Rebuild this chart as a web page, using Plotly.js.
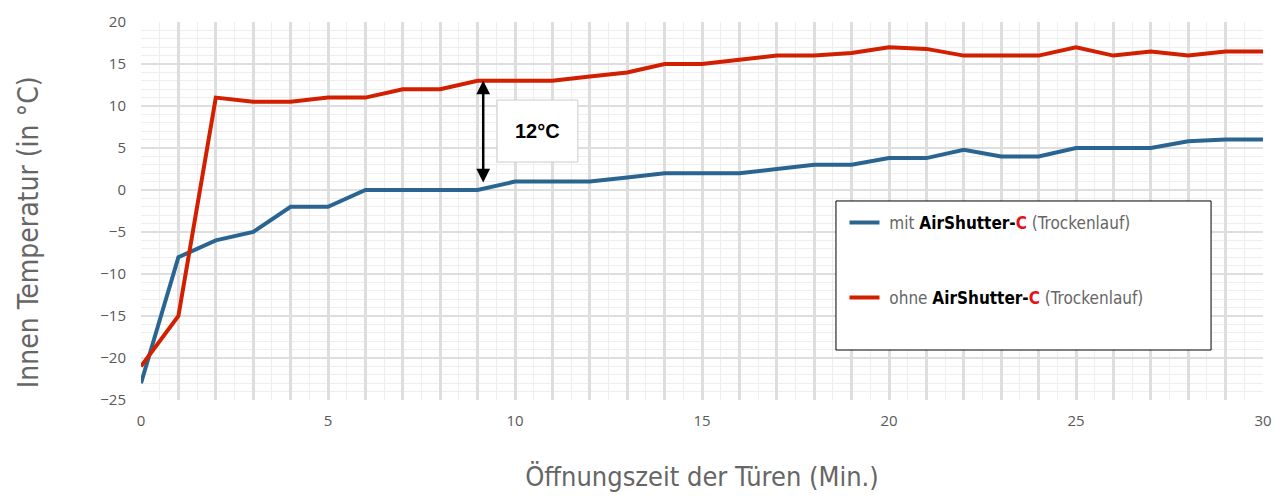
<!DOCTYPE html>
<html>
<head>
<meta charset="utf-8">
<script src="https://cdn.plot.ly/plotly-3.0.1.min.js"></script>
<style>html,body{margin:0;padding:0;background:#fff;}#chart{width:1274px;height:497px;}</style>
</head>
<body>
<div id="chart"></div>
<script>
const minutes = [0,1,2,3,4,5,6,7,8,9,10,11,12,13,14,15,16,17,18,19,20,21,22,23,24,25,26,27,28,29,30];
const mitAirShutter = [-23,-8,-6,-5,-2,-2,0,0,0,0,1,1,1,1.5,2,2,2,2.5,3,3,3.8,3.8,4.8,4,4,5,5,5,5.8,6,6];
const ohneAirShutter = [-21,-15,11,10.5,10.5,11,11,12,12,13,13,13,13.5,14,15,15,15.5,16,16,16.3,17,16.8,16,16,16,17,16,16.5,16,16.5,16.5];
const xTickLabels = ['0','','','','','5','','','','','10','','','','','15','','','','','20','','','','','25','','','','','30'];
const seriesNames = [
  "\u00a0mit <b><span style='color:#000'>AirShutter-</span></b><b><span style='color:#e8101a'>C</span></b> (Trockenlauf)",
  "\u00a0ohne <b><span style='color:#000'>AirShutter-</span></b><b><span style='color:#e8101a'>C</span></b> (Trockenlauf)"
];
const xTitle = "Öffnungszeit der Türen (Min.)";
const yTitle = "Innen Temperatur (in °C)";
const diffLabel = "12°C";

const condensed = "'Liberation Sans Narrow', 'DejaVu Sans Condensed', 'Roboto', sans-serif";

const traces = [
  {x: minutes, y: mitAirShutter, name: seriesNames[0], type: 'scatter', mode: 'lines',
   line: {color: '#2a6592', width: 4}, legendgroup: 'a'},
  {x: minutes, y: ohneAirShutter, name: seriesNames[1], type: 'scatter', mode: 'lines',
   line: {color: '#d21f00', width: 4}, legendgroup: 'b'}
];

const layout = {
  width: 1274, height: 497,
  margin: {l: 141, r: 11, t: 22, b: 97},
  paper_bgcolor: '#fff', plot_bgcolor: '#fff',
  showlegend: true,
  legend: {x: 0.627, y: 0.516, xanchor: 'left', yanchor: 'top',
    bgcolor: 'rgba(0,0,0,0)', borderwidth: 0, tracegroupgap: 50,
    font: {family: condensed, size: 17, color: '#666'}},
  xaxis: {range: [0, 30], tickmode: 'array', tickvals: minutes, ticktext: xTickLabels,
    showgrid: true, gridcolor: '#dedede', gridwidth: 3,
    zeroline: false, showline: false, ticks: '', ticklabelstandoff: 10,
    tickfont: {family: "'Open Sans', sans-serif", size: 15, color: '#595959'},
    minor: {dtick: 0.5, showgrid: true, gridcolor: '#eeeeee', gridwidth: 1},
    title: {text: xTitle, font: {family: condensed, size: 27, color: '#666'}, standoff: 38}
  },
  yaxis: {range: [-25, 20], dtick: 5, tick0: 0, showgrid: true, gridcolor: '#dedede', gridwidth: 2,
    zeroline: false, showline: false, ticks: '', ticklabelstandoff: 14,
    tickfont: {family: "'Open Sans', sans-serif", size: 15, color: '#595959'},
    minor: {dtick: 1, showgrid: true, gridcolor: '#eeeeee', gridwidth: 1}
  },
  shapes: [
    {type: 'rect', xref: 'paper', yref: 'paper', x0: 0.6194, x1: 0.9537, y0: 0.1323, y1: 0.5265,
     layer: 'above', fillcolor: '#fff', line: {color: '#000', width: 1}},
    {type: 'rect', xref: 'x', yref: 'y', x0: 9.52, x1: 11.68, y0: 3.33, y1: 10.71,
     layer: 'above', fillcolor: '#fff', line: {color: '#cccccc', width: 1}}
  ],
  annotations: [
    {x: 9.15, y: 0.9, ax: 9.15, ay: 13.2, xref: 'x', yref: 'y', axref: 'x', ayref: 'y',
     text: '', showarrow: true, arrowhead: 2, arrowside: 'end+start', arrowsize: 1.1, arrowwidth: 2.5, arrowcolor: '#000'},
    {x: 10.6, y: 7.0, xref: 'x', yref: 'y', text: '<b>' + diffLabel + '</b>', showarrow: false,
     font: {family: "'Liberation Sans', Arial, sans-serif", size: 20, color: '#000'}},
    {x: -0.1007, y: 0.444, xref: 'paper', yref: 'paper', xanchor: 'center', yanchor: 'middle',
     text: yTitle, textangle: -90, showarrow: false,
     font: {family: condensed, size: 28, color: '#666'}}
  ]
};

Plotly.newPlot('chart', traces, layout, {displayModeBar: false, staticPlot: true});
</script>
</body>
</html>
